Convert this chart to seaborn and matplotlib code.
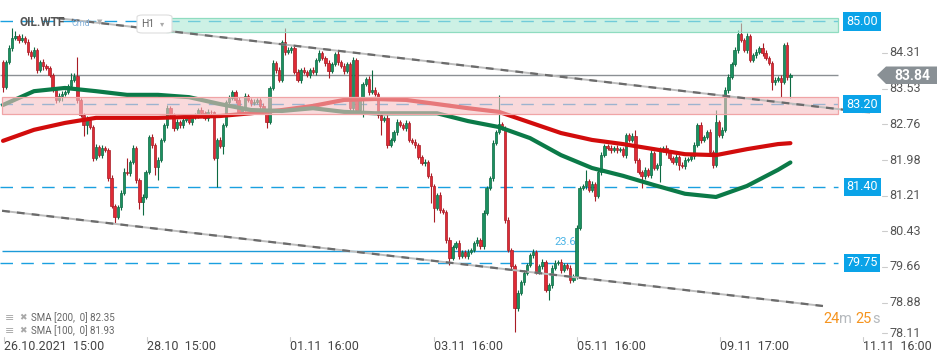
import numpy as np
import pandas as pd
import matplotlib
matplotlib.use("Agg")
import matplotlib.pyplot as plt
import seaborn as sns
from matplotlib.transforms import blended_transform_factory
from matplotlib.patches import Polygon, Rectangle, FancyBboxPatch
from matplotlib.lines import Line2D

# ---------------- data (hourly OIL.WTF candles) ----------------
first_open = 84.11
closes = [
    83.57, 84.11, 84.42, 84.64, 84.68, 84.59, 84.64, 84.55, 84.33, 84.24, 84.38, 83.94, 84.11, 84.03, 83.98,
    83.83, 83.51, 83.29, 83.38, 83.42, 83.46, 83.59, 83.72, 83.81, 83.29, 82.96, 82.74, 82.85, 82.70, 82.03,
    82.27, 82.09, 82.24, 82.20, 81.59, 80.98, 80.75, 80.96, 81.27, 81.72, 81.70, 81.94, 82.24, 81.55, 81.07,
    81.18, 81.72, 82.48, 82.31, 81.83, 81.98, 82.42, 82.74, 83.11, 82.96, 82.68, 82.81, 82.74, 82.85, 82.90,
    82.81, 82.92, 82.96, 83.07, 83.00, 82.90, 83.03, 83.02, 82.03, 82.42, 82.29, 82.74, 83.24, 83.33, 83.46,
    83.29, 83.03, 83.11, 83.38, 83.29, 83.22, 83.25, 83.29, 83.16, 83.03, 82.81, 83.55, 84.09, 83.94, 83.72,
    84.55, 84.33, 84.38, 84.42, 83.90, 83.72, 83.94, 83.90, 83.83, 83.94, 83.90, 84.16, 84.31, 84.20, 84.09,
    83.92, 84.07, 84.29, 84.11, 84.03, 83.92, 84.07, 83.11, 84.16, 83.07, 83.29, 83.64, 83.74, 83.46, 83.51,
    83.42, 82.96, 82.85, 82.90, 82.31, 82.42, 82.59, 82.81, 82.74, 82.68, 82.79, 82.42, 82.38, 82.31, 82.05,
    81.92, 81.94, 81.64, 81.42, 80.94, 81.22, 80.90, 80.85, 80.24, 79.85, 80.09, 80.18, 79.90, 79.98, 79.90,
    79.98, 80.03, 80.18, 80.24, 80.11, 80.83, 81.38, 81.59, 82.35, 82.59, 82.77, 82.68, 80.68, 80.03, 79.68,
    78.77, 79.09, 79.33, 79.53, 79.70, 79.92, 79.98, 79.55, 79.68, 79.77, 79.16, 79.27, 79.64, 79.75, 79.77,
    79.59, 79.70, 79.64, 79.38, 79.46, 80.51, 81.38, 81.42, 81.53, 81.33, 81.46, 81.20, 81.72, 82.09, 82.29,
    82.24, 82.20, 82.24, 82.20, 82.22, 82.09, 82.53, 82.42, 82.51, 81.98, 81.72, 81.64, 81.77, 81.66, 82.14,
    81.81, 81.88, 82.20, 82.24, 82.16, 82.03, 81.94, 82.05, 81.88, 81.85, 81.98, 82.00, 82.07, 82.31, 82.74,
    82.42, 82.48, 82.59, 82.16, 81.88, 82.81, 82.53, 82.64, 83.51, 83.79, 84.07, 84.38, 84.72, 84.59, 84.38,
    84.68, 84.16, 84.27, 84.33, 84.42, 84.31, 84.20, 84.09, 83.68, 83.72, 83.76, 83.68, 84.48, 83.79, 83.84,
]
wick_up = [
    0.05, 0.04, 0.06, 0.21, 0.11, 0.05, 0.08, 0.04, 0.06, 0.05, 0.07, 0.04, 0.05, 0.06, 0.04,
    0.05, 0.04, 0.06, 0.05, 0.07, 0.04, 0.05, 0.15, 0.06, 0.41, 0.05, 0.04, 0.08, 0.05, 0.04,
    0.06, 0.05, 0.07, 0.05, 0.04, 0.06, 0.05, 0.04, 0.06, 0.08, 0.31, 0.05, 0.06, 0.04, 0.05,
    0.06, 0.05, 0.04, 0.07, 0.05, 0.06, 0.04, 0.05, 0.07, 0.05, 0.04, 0.06, 0.05, 0.08, 0.04,
    0.05, 0.06, 0.04, 0.05, 0.07, 0.04, 0.06, 0.05, 0.03, 0.05, 0.06, 0.04, 0.05, 0.07, 0.05,
    0.04, 0.06, 0.05, 0.07, 0.04, 0.05, 0.06, 0.04, 0.05, 0.06, 0.05, 0.04, 0.06, 0.05, 0.07,
    0.05, 0.30, 0.06, 0.05, 0.04, 0.06, 0.05, 0.07, 0.04, 0.05, 0.06, 0.05, 0.07, 0.04, 0.05,
    0.06, 0.05, 0.04, 0.09, 0.05, 0.06, 0.04, 0.05, 0.07, 0.05, 0.06, 0.04, 0.05, 0.06, 0.43,
    0.05, 0.04, 0.06, 0.05, 0.07, 0.04, 0.05, 0.06, 0.04, 0.05, 0.07, 0.05, 0.04, 0.06, 0.05,
    0.04, 0.06, 0.05, 0.07, 0.04, 0.05, 0.06, 0.04, 0.05, 0.07, 0.05, 0.04, 0.06, 0.05, 0.04,
    0.06, 0.05, 0.04, 0.07, 0.05, 0.06, 0.04, 0.05, 0.06, 0.05, 0.63, 0.05, 0.04, 0.06, 0.05,
    0.04, 0.06, 0.05, 0.07, 0.04, 0.05, 0.06, 0.04, 0.05, 0.07, 0.05, 0.04, 0.06, 0.05, 0.04,
    0.06, 0.05, 0.04, 0.07, 0.05, 0.06, 0.04, 0.05, 0.24, 0.05, 0.06, 0.04, 0.05, 0.07, 0.05,
    0.04, 0.06, 0.05, 0.07, 0.04, 0.05, 0.04, 0.05, 0.06, 0.13, 0.05, 0.04, 0.06, 0.05, 0.07,
    0.05, 0.04, 0.06, 0.05, 0.07, 0.04, 0.05, 0.06, 0.04, 0.05, 0.07, 0.05, 0.04, 0.06, 0.05,
    0.06, 0.05, 0.04, 0.07, 0.05, 0.26, 0.04, 0.06, 0.05, 0.07, 0.04, 0.05, 0.10, 0.24, 0.05,
    0.06, 0.05, 0.04, 0.07, 0.05, 0.11, 0.06, 0.05, 0.04, 0.06, 0.05, 0.07, 0.05, 0.06, 0.04,
]
wick_dn = [
    0.10, 0.05, 0.04, 0.06, 0.05, 0.07, 0.04, 0.05, 0.06, 0.05, 0.04, 0.06, 0.05, 0.08, 0.04,
    0.05, 0.05, 0.06, 0.04, 0.11, 0.05, 0.04, 0.06, 0.05, 0.07, 0.05, 0.23, 0.19, 0.05, 0.06,
    0.04, 0.05, 0.06, 0.05, 0.07, 0.04, 0.14, 0.05, 0.06, 0.04, 0.05, 0.06, 0.05, 0.07, 0.15,
    0.28, 0.05, 0.04, 0.06, 0.17, 0.28, 0.05, 0.04, 0.06, 0.05, 0.07, 0.04, 0.05, 0.06, 0.05,
    0.04, 0.06, 0.05, 0.07, 0.04, 0.05, 0.06, 0.05, 0.05, 0.63, 0.05, 0.18, 0.04, 0.06, 0.05,
    0.06, 0.05, 0.04, 0.07, 0.05, 0.06, 0.04, 0.05, 0.06, 0.05, 0.13, 0.05, 0.04, 0.06, 0.05,
    0.04, 0.06, 0.05, 0.07, 0.05, 0.04, 0.06, 0.05, 0.04, 0.06, 0.05, 0.07, 0.04, 0.05, 0.06,
    0.15, 0.05, 0.04, 0.06, 0.05, 0.07, 0.04, 0.05, 0.06, 0.05, 0.04, 0.37, 0.05, 0.06, 0.04,
    0.05, 0.06, 0.32, 0.05, 0.07, 0.04, 0.05, 0.06, 0.04, 0.05, 0.07, 0.05, 0.04, 0.06, 0.05,
    0.04, 0.06, 0.05, 0.37, 0.30, 0.05, 0.06, 0.04, 0.05, 0.15, 0.05, 0.04, 0.06, 0.05, 0.04,
    0.06, 0.05, 0.04, 0.07, 0.05, 0.06, 0.04, 0.05, 0.06, 0.05, 0.04, 0.05, 0.06, 0.05, 0.07,
    0.52, 0.06, 0.05, 0.07, 0.04, 0.05, 0.06, 0.04, 0.05, 0.07, 0.05, 0.22, 0.06, 0.05, 0.04,
    0.06, 0.05, 0.04, 0.07, 0.05, 0.06, 0.04, 0.05, 0.06, 0.05, 0.04, 0.10, 0.05, 0.07, 0.05,
    0.04, 0.06, 0.05, 0.07, 0.04, 0.05, 0.06, 0.05, 0.04, 0.06, 0.05, 0.27, 0.06, 0.05, 0.07,
    0.05, 0.04, 0.38, 0.05, 0.07, 0.04, 0.05, 0.06, 0.11, 0.05, 0.07, 0.05, 0.04, 0.06, 0.05,
    0.06, 0.05, 0.04, 0.07, 0.07, 0.05, 0.04, 0.06, 0.05, 0.07, 0.04, 0.05, 0.06, 0.05, 0.05,
    0.06, 0.05, 0.04, 0.07, 0.05, 0.06, 0.04, 0.05, 0.17, 0.06, 0.05, 0.33, 0.05, 0.06, 0.46,
]

sma_idx = [0, 10, 20, 30, 40, 50, 60, 70, 80, 90, 100, 110, 120, 130, 140, 150, 160,
           170, 180, 190, 200, 210, 220, 230, 240, 250, 254]
sma200 = [82.40, 82.64, 82.79, 82.90, 82.90, 82.90, 82.92, 82.94, 83.00, 83.07, 83.16, 83.29, 83.31,
          83.29, 83.20, 83.11, 83.03, 82.80, 82.57, 82.42, 82.33, 82.22, 82.11, 82.09, 82.22, 82.33, 82.35]
sma100 = [83.18, 83.48, 83.55, 83.48, 83.40, 83.40, 83.35, 83.20, 83.07, 83.05, 83.11, 83.03, 83.00,
          83.00, 83.00, 82.83, 82.70, 82.46, 82.09, 81.81, 81.64, 81.44, 81.25, 81.18, 81.42, 81.77, 81.93]

levels = [85.00, 83.20, 81.40, 79.75]
zone_green = (84.77, 85.07)
zone_red = (82.98, 83.35)
last_price = 83.84
fib_level = 80.00
fib_label = "23.6"
upper_trend_x = [17.4, 279.7]
upper_trend_y = [85.07, 83.01]
lower_trend_x = [-0.3, 264.5]
lower_trend_y = [80.88, 78.81]
price_ticks = [84.31, 83.53, 82.76, 81.98, 81.21, 80.43, 79.66, 78.88, 78.11]
date_labels = ["26.10.2021  15:00", "28.10  15:00", "01.11  16:00", "03.11  16:00",
               "05.11  16:00", "09.11  17:00", "11.11  16:00"]
date_idx = [0.3, 46.5, 92.6, 139.0, 185.2, 231.3, 277.4]

# ---------------- styling ----------------
sns.set_theme(style="white")
plt.rcParams["font.family"] = ["Roboto", "DejaVu Sans"]

W, H = 950, 364
fig = plt.figure(figsize=(W / 100, H / 100), dpi=100)
fig.patch.set_facecolor("white")
ax = fig.add_axes([0, 28 / H, 840 / W, 336 / H])
ax.set_facecolor("white")
XMIN, XMAX = -0.968, 270.0
ax.set_xlim(XMIN, XMAX)
ax.set_ylim(78.158, 85.462)
for s in ax.spines.values():
    s.set_visible(False)
ax.set_xticks([])
ax.set_yticks([])

def fx(px):
    return px / W

def fy(py):
    return 1 - py / H

trY = blended_transform_factory(fig.transFigure, ax.transData)
trX = blended_transform_factory(ax.transData, fig.transFigure)

GREEN, GREEN_E = "#1b9060", "#0c6a42"
RED, RED_E = "#e02a35", "#a81c25"
BLUE = "#1aa0e0"

# ---------------- candles ----------------
df = pd.DataFrame({"c": closes})
df["o"] = [first_open] + closes[:-1]
df["h"] = np.maximum(df["o"], df["c"]) + np.array(wick_up)
df["l"] = np.minimum(df["o"], df["c"]) - np.array(wick_dn)
df["i"] = np.arange(len(df))
up = df["c"] >= df["o"]
body_h = np.maximum((df["c"] - df["o"]).abs(), 0.018)
body_b = np.minimum(df["o"], df["c"])

for mask, fc, ec in [(up, GREEN, GREEN_E), (~up, RED, RED_E)]:
    ax.vlines(df["i"][mask], df["l"][mask], df["h"][mask], color=ec, lw=0.8, zorder=3)
    ax.bar(df["i"][mask], body_h[mask], bottom=body_b[mask], width=0.72,
           color=fc, edgecolor=ec, linewidth=0.5, zorder=4)

# horizontal level lines
ax.hlines(levels, XMIN, 269.4, colors=BLUE, lw=1.0, linestyles=[(0, (9, 6))], zorder=2)
ax.hlines([last_price], XMIN, 269.4, colors="#8b9094", lw=1.0, zorder=2)
ax.hlines([fib_level], -0.3, 185.5, colors="#1c9ad8", lw=1.0, zorder=2)
ax.text(185.0, fib_level + 0.09, fib_label, color="#4ab4e6", fontsize=8,
        ha="right", va="bottom", zorder=8)

# SMA lines (seaborn)
sns.lineplot(x=sma_idx, y=sma200, color="#d20c0c", lw=3.0, ax=ax, zorder=5)
sns.lineplot(x=sma_idx, y=sma100, color="#0b7a48", lw=3.0, ax=ax, zorder=5)

# zones on top (semi transparent)
ax.add_patch(Rectangle((52.6, zone_green[0]), 269.4 - 52.6, zone_green[1] - zone_green[0],
                       facecolor=(0.675, 0.914, 0.835, 0.6), edgecolor="#8fdcc0", lw=0.9, zorder=6))
ax.add_patch(Rectangle((-0.3, zone_red[0]), 269.4 + 0.3, zone_red[1] - zone_red[0],
                       facecolor=(0.965, 0.757, 0.77, 0.6), edgecolor="#f0a4a6", lw=0.9, zorder=6))

# trend channel lines
for xs, ys in [(upper_trend_x, upper_trend_y), (lower_trend_x, lower_trend_y)]:
    ax.plot(xs, ys, color="#bdbdbd", lw=1.4, solid_capstyle="butt", clip_on=False, zorder=7)
    ax.plot(xs, ys, color="#6b6b6b", lw=1.6, ls=(0, (3.5, 3.2)), clip_on=False, zorder=7.1)

# level labels (blue boxes)
for lv in levels:
    ax.text(fx(862), lv, f"{lv:.2f}", transform=trY, ha="center", va="center",
            color="white", fontsize=9, zorder=10, clip_on=False,
            bbox=dict(boxstyle="square,pad=0.22", fc="#0aa3e8", ec="none"))

# price axis labels
for t in price_ticks:
    yv = max(t, 78.22)
    ax.text(fx(889), yv, f"{t:.2f}", transform=trY, ha="left", va="center",
            color="#555555", fontsize=9, clip_on=False)
    ax.add_line(Line2D([fx(882), fx(887)], [yv, yv], transform=trY, color="#cccccc",
                       lw=0.8, clip_on=False))

# current price arrow label
pts = [(877, 75), (886, 66.5), (937, 66.5), (937, 84), (886, 84)]
fig.patches.append(Polygon([(fx(a), fy(b)) for a, b in pts], closed=True,
                           transform=fig.transFigure, fc="#899095", ec="none", zorder=9))
fig.text(fx(912), fy(75.5), f"{last_price:.2f}", color="white", fontsize=10,
         fontweight="bold", ha="center", va="center", zorder=10)

# date axis
for lab, xi in zip(date_labels, date_idx):
    ax.text(xi, fy(347), lab, transform=trX, ha="left", va="center",
            color="#444444", fontsize=9, clip_on=False)
    ax.add_line(Line2D([xi, xi], [fy(336.5), fy(340.5)], transform=trX,
                       color="#cccccc", lw=0.8, clip_on=False))

# top-left instrument header
fig.text(fx(20), fy(23), "OIL.WTF", color="#555555", fontsize=8.5, fontweight="bold",
         ha="left", va="center", zorder=10)
fig.text(fx(72), fy(24), "Cmd", color="#86b2da", fontsize=6.5, ha="left", va="center", zorder=10)
fig.text(fx(97), fy(23), "▼", color="#b0b0b0", fontsize=5, ha="left", va="center", zorder=10)
fig.patches.append(FancyBboxPatch((fx(137), fy(33)), fx(35), 18 / H,
                                  boxstyle="round,pad=0,rounding_size=0.006",
                                  transform=fig.transFigure, fc="white", ec="#dddddd",
                                  lw=0.8, zorder=9))
fig.text(fx(141), fy(24), "H1", color="#666666", fontsize=7.5, ha="left", va="center", zorder=10)
fig.text(fx(160), fy(24), "▾", color="#aaaaaa", fontsize=6, ha="left", va="center", zorder=10)

# bottom-left indicator legend
for yy, name, val in [(318, "SMA [200,  0]", sma200[-1]), (331, "SMA [100,  0]", sma100[-1])]:
    fig.text(fx(5), fy(yy), "≡", color="#a8a8a8", fontsize=8, ha="left", va="center")
    fig.text(fx(19), fy(yy), "✖", color="#a8a8a8", fontsize=6.5, ha="left", va="center")
    fig.text(fx(31), fy(yy), f"{name} {val:.2f}", color="#666666", fontsize=7,
             ha="left", va="center")

# countdown
for px, s, col in [(823, "24", "#f5941f"), (839, "m", "#b5b9bd"), (855, "25", "#f5941f"), (872, "s", "#b5b9bd")]:
    fig.text(fx(px), fy(319), s, color=col, fontsize=10.5, ha="left", va="center")

fig.savefig("out.png", dpi=100, facecolor="white")
